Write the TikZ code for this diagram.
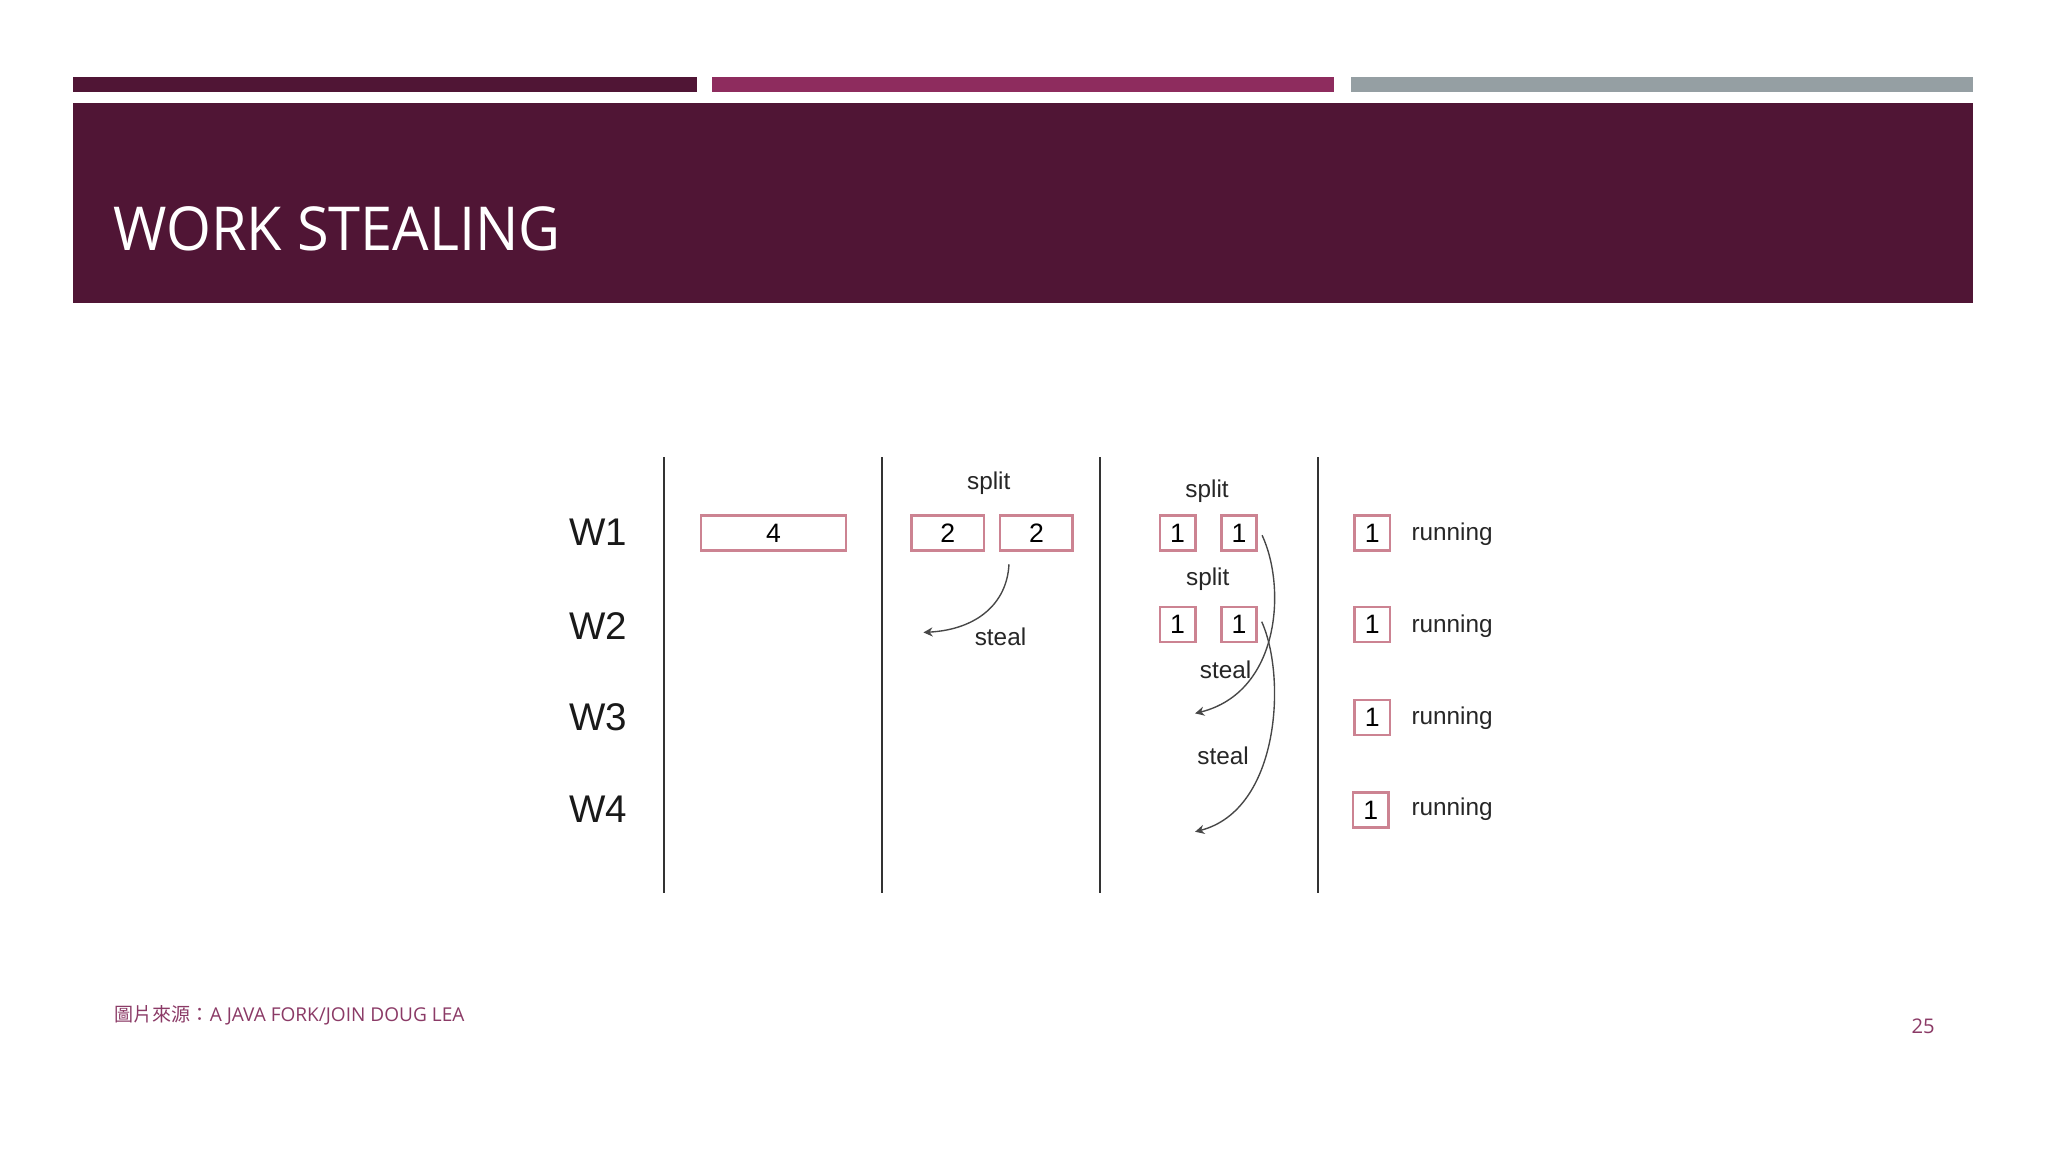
\documentclass[tikz,border=0pt]{standalone}
\usepackage{fontspec}
\setmainfont{Open Sans}
\newfontfamily\arialf{Liberation Sans}
\newfontfamily\cjkf{Noto Sans CJK TC}
\usetikzlibrary{arrows.meta}
\definecolor{maroon}{HTML}{501535}
\definecolor{plum}{HTML}{8E2C5E}
\definecolor{slate}{HTML}{959FA3}
\definecolor{foot}{HTML}{8B3A66}
\definecolor{boxline}{HTML}{CC8392}
\definecolor{ink}{HTML}{333333}
\begin{document}
\begin{tikzpicture}[x=0.1mm,y=-0.1mm,
  task/.style={draw=boxline, line width=0.55pt, fill=white, inner sep=0,
    minimum height=2.68mm, text=black, font=\arialf\fontsize{5.8}{7}\selectfont},
  wide/.style={task, minimum width=11.07mm},
  half/.style={task, minimum width=5.55mm},
  unit/.style={task, minimum width=2.7mm},
  wlab/.style={inner sep=0, text=black!90, font=\arialf\fontsize{8.4}{10}\selectfont},
  small/.style={inner sep=0, anchor=base, text=black!85, font=\arialf\fontsize{5.3}{6}\selectfont},
  lane/.style={draw=ink, line width=0.45pt},
  stealarrow/.style={draw=ink!90, line width=0.3pt, -{Stealth[length=2pt,width=2pt]}}
]
\useasboundingbox[fill=white] (0,0) rectangle (1568,882);

% header bars and title band
\fill[maroon] (56.2,58.7) rectangle (533.6,70.7);
\fill[plum] (545,58.7) rectangle (1021.4,70.7);
\fill[slate] (1034,58.7) rectangle (1510.7,70.7);
\fill[maroon] (56.2,79.1) rectangle (1510.7,231.8);
\node[anchor=base west, inner sep=0, text=white, font=\fontsize{13.2}{15}\selectfont] (title) at (86,191.4) {\scalebox{0.952}[1]{WORK STEALING}};

% lanes
\coordinate (l1t) at (508.6,350.2); \coordinate (l1b) at (508.6,683.5);
\coordinate (l2t) at (675.6,350.2); \coordinate (l2b) at (675.6,683.5);
\coordinate (l3t) at (842.3,350.2); \coordinate (l3b) at (842.3,683.5);
\coordinate (l4t) at (1009,350.2); \coordinate (l4b) at (1009,683.5);
\draw[lane] (l1t) -- (l1b);
\draw[lane] (l2t) -- (l2b);
\draw[lane] (l3t) -- (l3b);
\draw[lane] (l4t) -- (l4b);

% worker labels
\node[wlab] (w1) at (458,407.7) {W1};
\node[wlab] (w2) at (458,479.2) {W2};
\node[wlab] (w3) at (458,549.4) {W3};
\node[wlab] (w4) at (458,619.6) {W4};

% column 1
\node[wide] (b4) at (592.2,408.2) {4};

% column 2
\node[half] (b2a) at (725.7,408.2) {2};
\node[half] (b2b) at (793.5,408.2) {2};
\node[small] (sp1) at (757,375.1) {split};
\node[small] (st1) at (766,493.9) {steal};
\coordinate (s2) at (772.5,432);
\coordinate (e2) at (707,484.2);
\draw[stealarrow] (s2) .. controls (771,462) and (748,482) .. (e2);

% column 3
\node[unit] (c1a) at (901.6,408.2) {1};
\node[unit] (c1b) at (948.7,408.2) {1};
\node[unit] (c2a) at (901.6,478.3) {1};
\node[unit] (c2b) at (948.7,478.3) {1};
\node[small] (sp2) at (924.2,380.8) {split};
\node[small] (sp3) at (924.7,448.6) {split};
\node[small] (st2) at (938.3,519.4) {steal};
\node[small] (st3) at (936.5,585.2) {steal};
\coordinate (s3) at (966.3,409.8);
\coordinate (e3) at (915,546.2);
\coordinate (s4) at (966,476);
\coordinate (e4) at (915,636.8);
\draw[stealarrow] (s3) .. controls (985,450) and (980,530) .. (e3);
\draw[stealarrow] (s4) .. controls (985,518) and (980,620) .. (e4);

% column 4
\node[unit] (d1) at (1050.7,408.2) {1};
\node[unit] (d2) at (1050.7,478.3) {1};
\node[unit] (d3) at (1050.7,549.3) {1};
\node[unit] (d4) at (1049.5,620.1) {1};
\node[small, anchor=base west] (r1) at (1080,414) {running};
\node[small, anchor=base west] (r2) at (1080,484) {running};
\node[small, anchor=base west] (r3) at (1080,554.5) {running};
\node[small, anchor=base west] (r4) at (1080,624.5) {running};

% footer
\node[anchor=base west, inner sep=0, text=foot, font=\fontsize{4.15}{5}\selectfont] (src) at (87,782.3) {{\cjkf 圖片來源：}A JAVA FORK/JOIN DOUG LEA};
\node[anchor=base east, inner sep=0, text=foot, font=\fontsize{4.4}{5}\selectfont] (pg) at (1482,791.2) {25};
\end{tikzpicture}
\end{document}
